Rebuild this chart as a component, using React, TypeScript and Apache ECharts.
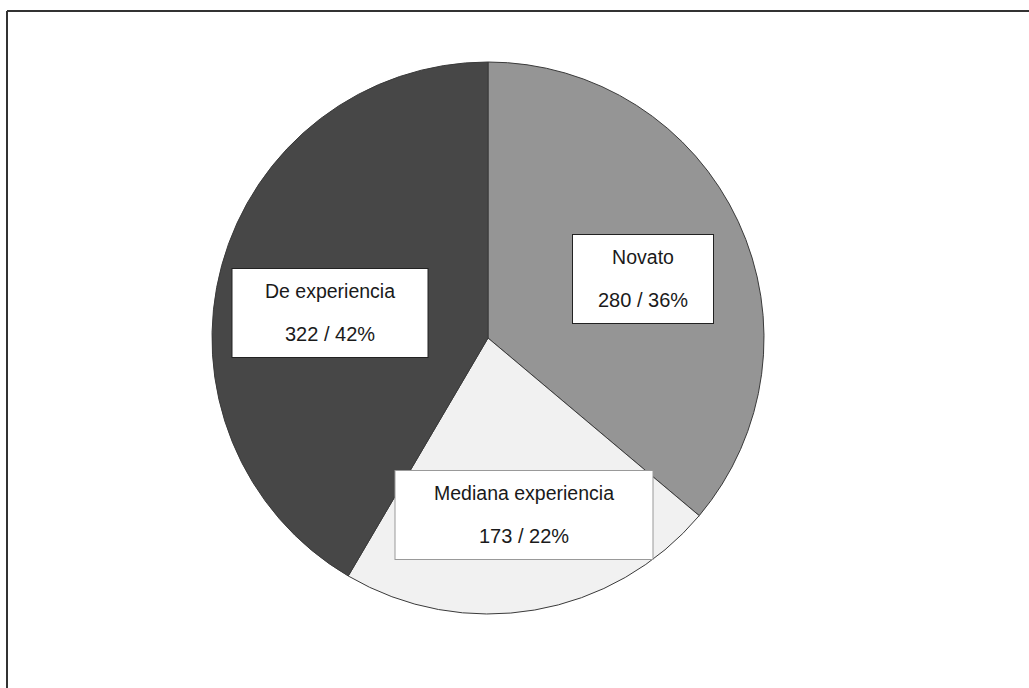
import React, { useEffect, useRef } from "react";
import * as echarts from "echarts";

const categories = ["Novato", "Mediana experiencia", "De experiencia"];
const values = [280, 173, 322];
const sliceColors = ["#959595", "#f1f1f1", "#474747"];
// label box centres and widths (layout only)
const labelCenters = [
  [643, 279],
  [524, 515],
  [330, 313],
];
const labelWidths = [140, 257, 195];
const labelBorders = ["#222", "#999", "#222"];

export default function App() {
  const ref = useRef<HTMLDivElement>(null);
  useEffect(() => {
    if (!ref.current) return;
    const chart = echarts.init(ref.current, null, { renderer: "svg" });
    const data = categories.map((name, i) => ({
      name,
      value: values[i],
      itemStyle: { color: sliceColors[i] },
      label: { width: labelWidths[i], borderColor: labelBorders[i] },
    }));
    chart.setOption({
      animation: false,
      backgroundColor: "#ffffff",
      graphic: [
        {
          type: "line",
          shape: { x1: 7, y1: 11, x2: 1029, y2: 11 },
          style: { stroke: "#333", lineWidth: 2 },
        },
        {
          type: "line",
          shape: { x1: 7, y1: 11, x2: 7, y2: 688 },
          style: { stroke: "#333", lineWidth: 2 },
        },
      ],
      series: [
        {
          type: "pie",
          center: [488, 338],
          radius: 276,
          startAngle: 90,
          clockwise: true,
          data,
          itemStyle: { borderColor: "#3a3a3a", borderWidth: 1 },
          emphasis: { disabled: true },
          labelLine: { show: false },
          label: {
            show: true,
            position: "inside",
            backgroundColor: "#ffffff",
            borderWidth: 1,
            padding: [2, 0, 0, 0],
            align: "center",
            formatter: (p: any) =>
              `{a|${p.name}}\n{b|${p.value} / ${Math.round(p.percent)}%}`,
            rich: {
              a: {
                fontFamily: "Liberation Sans, Arial, sans-serif",
                fontSize: 19.5,
                color: "#1a1a1a",
                lineHeight: 40,
                align: "center",
              },
              b: {
                fontFamily: "Liberation Sans, Arial, sans-serif",
                fontSize: 20,
                color: "#1a1a1a",
                lineHeight: 46,
                align: "center",
              },
            },
          },
          labelLayout: (params: any) => ({
            x: labelCenters[params.dataIndex][0],
            y: labelCenters[params.dataIndex][1],
            align: "center",
            verticalAlign: "middle",
          }),
        },
      ],
    });
    return () => chart.dispose();
  }, []);
  return (
    <div
      ref={ref}
      style={{ position: "fixed", left: 0, top: 0, width: 1029, height: 688 }}
    />
  );
}
